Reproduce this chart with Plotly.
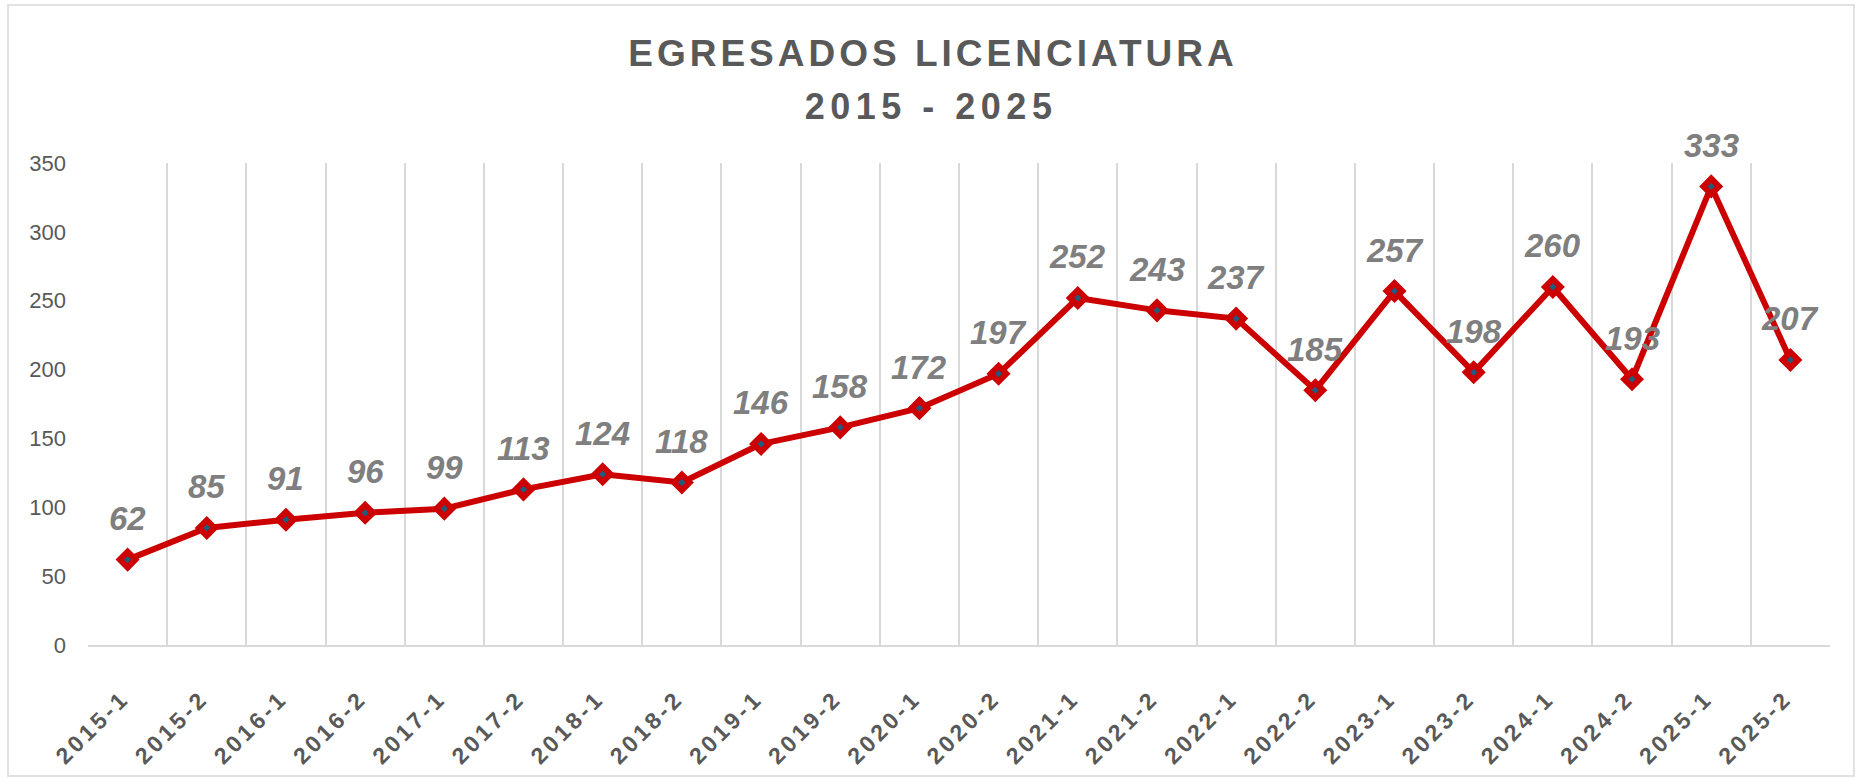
import plotly.graph_objects as go

# ---- data ----
categories = ["2015-1", "2015-2", "2016-1", "2016-2", "2017-1", "2017-2",
              "2018-1", "2018-2", "2019-1", "2019-2", "2020-1", "2020-2",
              "2021-1", "2021-2", "2022-1", "2022-2", "2023-1", "2023-2",
              "2024-1", "2024-2", "2025-1", "2025-2"]
egresados = [62, 85, 91, 96, 99, 113, 124, 118, 146, 158, 172, 197,
             252, 243, 237, 185, 257, 198, 260, 193, 333, 207]
y_ticks = [0, 50, 100, 150, 200, 250, 300, 350]
title_line1 = "EGRESADOS LICENCIATURA"
title_line2 = "2015 - 2025"

# ---- layout geometry (pixels) ----
W, H = 1858, 778
L, R, T, B = 88, 1830, 163, 645
plot_w, plot_h = R - L, B - T


def px_x(x):
    return (x - L) / plot_w


def px_y(y):
    return (B - y) / plot_h


GRAY_TXT = "#595959"
GRID = "#d9d9d9"
RED = "#CC0000"
FONT = "Liberation Sans, Arial, sans-serif"

fig = go.Figure()
fig.add_trace(go.Scatter(
    x=categories, y=egresados, mode="lines+markers",
    line=dict(color=RED, width=6),
    marker=dict(symbol="diamond", size=12, color="#1F5C80",
                line=dict(color=RED, width=6)),
    cliponaxis=False, showlegend=False, hoverinfo="x+y",
))

annotations = [
    dict(text=title_line2, xref="paper", yref="paper",
         x=px_x(931), y=px_y(107), xanchor="center", yanchor="middle",
         showarrow=False,
         font=dict(family=FONT, size=36, color=GRAY_TXT, weight="bold")),
]
for c, v in zip(categories, egresados):
    annotations.append(dict(
        x=c, y=v, xref="x", yref="y", text=str(v), showarrow=False,
        yshift=41, xanchor="center", yanchor="middle",
        font=dict(family=FONT, size=33, color="#7f7f7f",
                  weight="bold", style="italic")))

fig.update_layout(
    width=W, height=H,
    margin=dict(l=L, r=W - R, t=T, b=H - B, pad=0),
    paper_bgcolor="white", plot_bgcolor="white",
    title=dict(text=title_line1, x=933 / W, xanchor="center",
               y=1 - 53 / H, yanchor="middle", yref="container",
               font=dict(family=FONT, size=37, color=GRAY_TXT, weight="bold")),
    xaxis=dict(
        type="category", range=[-0.5, len(categories) - 0.5],
        tickson="boundaries", showgrid=True, gridcolor=GRID, gridwidth=1.5,
        showline=True, linecolor=GRID, linewidth=1.5,
        ticks="", tickangle=-45, ticklabelstandoff=29, ticklabelshift=-5,
        tickfont=dict(family=FONT, size=23, color=GRAY_TXT, weight="bold"),
        zeroline=False, fixedrange=True,
    ),
    yaxis=dict(
        range=[0, 350], tickvals=y_ticks, showgrid=False, zeroline=False,
        showline=False, ticks="", ticklabelstandoff=21,
        tickfont=dict(family=FONT, size=22, color=GRAY_TXT),
        fixedrange=True,
    ),
    annotations=annotations,
    shapes=[dict(type="rect", xref="paper", yref="paper",
                 x0=px_x(8), x1=px_x(1854), y0=px_y(776), y1=px_y(5),
                 line=dict(color=GRID, width=1.5), layer="below")],
)

css = ("body{margin:0;}"
       ".gtitle{letter-spacing:4px;}"
       ".xtick text{letter-spacing:3.5px;}"
       ".annotation[data-index='0'] text{letter-spacing:5.5px;}")
post = ("var s=document.createElement('style');s.textContent=\"" + css +
        "\";document.head.appendChild(s);")

fig.write_html("out.html", post_script=post,
               config={"displayModeBar": False})
